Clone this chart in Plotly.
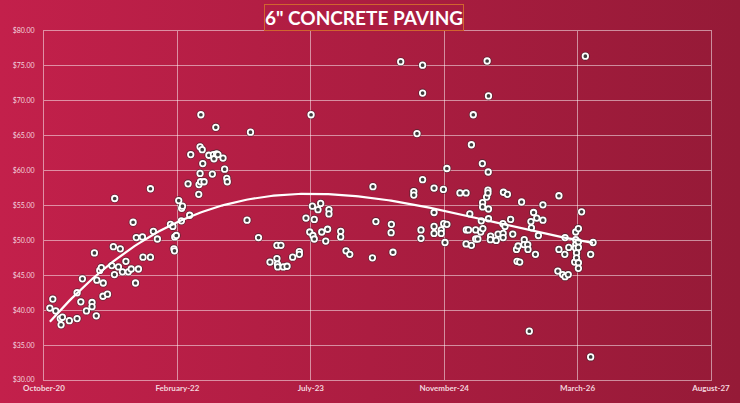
import base64
import numpy as np
import plotly.graph_objects as go

# x = days since start of axis (October-20); y = price in $
days = [22, 33, 44, 61, 64, 69, 95, 124, 124, 138, 144, 159, 180, 180, 189, 196, 198, 209, 215, 221,
        222, 238, 254, 260, 264, 265, 279, 286, 294, 307, 316, 327, 334, 343, 346, 354, 369, 371, 399, 399,
        410, 425, 474, 483, 487, 489, 490, 496, 505, 515, 516, 519, 540, 546, 550, 580, 581, 585, 585, 587,
        588, 593, 595, 600, 618, 631, 635, 637, 644, 647, 652, 671, 677, 685, 687, 761, 774, 804, 847, 873,
        873, 875, 876, 888, 897, 911, 932, 957, 957, 982, 996, 1001, 1006, 1008, 1013, 1013, 1027, 1037, 1041, 1056,
        1063, 1068, 1068, 1112, 1112, 1132, 1146, 1231, 1233, 1244, 1301, 1302, 1308, 1337, 1386, 1386, 1398, 1413, 1413, 1419,
        1419, 1419, 1462, 1462, 1462, 1462, 1489, 1489, 1497, 1498, 1503, 1510, 1510, 1559, 1582, 1583, 1582, 1591, 1596, 1602,
        1602, 1609, 1618, 1618, 1626, 1639, 1637, 1643, 1644, 1644, 1645, 1659, 1661, 1664, 1664, 1665, 1666, 1666, 1666, 1674,
        1673, 1695, 1702, 1720, 1722, 1721, 1721, 1728, 1737, 1749, 1757, 1771, 1773, 1777, 1783, 1790, 1800, 1799, 1813, 1814,
        1819, 1825, 1827, 1835, 1842, 1847, 1853, 1870, 1870, 1926, 1930, 1930, 1944, 1952, 1953, 1953, 1965, 1967, 1989, 1993,
        1993, 1993, 1992, 1996, 1996, 2003, 2003, 2003, 2003, 2003, 2015, 2029, 2049, 2049, 2058]
price = [40.3, 41.6, 39.9, 38.8, 37.9, 39.0, 38.5, 38.8, 42.5, 41.2, 44.5, 39.9, 41.1, 40.5, 48.2, 39.2, 44.3, 45.7, 46.1, 42.0,
         43.9, 42.3, 46.4, 49.1, 45.1, 56.0, 46.2, 48.8, 45.5, 47.0, 45.5, 45.9, 52.6, 43.9, 50.4, 45.9, 50.5, 47.6, 57.4, 47.6,
         51.3, 50.2, 52.3, 52.0, 48.8, 48.5, 50.5, 50.7, 55.7, 52.8, 54.6, 54.9, 58.1, 53.6, 62.3, 56.6, 58.0, 59.6, 63.4, 58.4,
         68.0, 63.0, 61.0, 58.4, 62.2, 59.5, 62.3, 61.7, 66.2, 62.4, 62.3, 61.8, 60.2, 58.9, 58.4, 52.9, 65.5, 50.4, 46.9, 49.3,
         47.4, 46.6, 46.2, 49.3, 46.2, 46.3, 47.6, 48.4, 48.0, 53.2, 51.2, 68.0, 54.9, 50.7, 53.0, 50.2, 54.4, 55.3, 51.2, 49.9,
         51.6, 54.4, 53.8, 51.3, 50.5, 48.5, 48.0, 47.5, 57.7, 52.7, 51.1, 52.3, 48.3, 75.6, 57.0, 56.5, 65.3, 51.5, 50.3, 75.1,
         71.1, 58.7, 57.5, 54.0, 52.0, 51.0, 51.5, 51.0, 57.3, 52.4, 49.7, 60.3, 52.3, 56.8, 56.8, 51.5, 49.5, 51.5, 53.8, 49.3,
         63.7, 68.0, 51.5, 50.2, 50.2, 52.8, 51.2, 61.0, 55.4, 54.8, 51.7, 56.2, 75.7, 57.2, 56.8, 59.8, 70.7, 54.5, 53.1, 50.6,
         50.1, 50.0, 50.9, 52.4, 56.9, 51.0, 50.4, 52.0, 56.6, 53.0, 50.9, 48.7, 47.0, 49.2, 46.9, 55.5, 50.1, 49.4, 49.4, 48.7,
         37.0, 52.7, 51.8, 54.0, 48.0, 53.2, 50.7, 55.1, 52.9, 45.6, 56.4, 48.7, 45.1, 48.0, 50.4, 44.8, 45.1, 49.0, 46.9, 51.2,
         50.1, 49.4, 48.9, 48.2, 47.5, 51.7, 49.8, 49.0, 46.8, 46.0, 54.1, 76.4, 48.0, 33.3, 49.7]

tick_days = [0, 500, 1000, 1500, 2000, 2500]
tick_labels = ["October-20", "February-22", "July-23", "November-24", "March-26", "August-27"]
y_ticks = [30, 35, 40, 45, 50, 55, 60, 65, 70, 75, 80]
y_labels = ["$%.2f" % v for v in y_ticks]
title_text = '6" CONCRETE PAVING'

# polynomial (order 3) trendline, as in the spreadsheet
coef = np.polyfit(np.array(days, float), np.array(price, float), 3)
tx = np.linspace(min(days), max(days), 200)
ty = np.polyval(coef, tx)

W, H = 740, 403
ml, mr, mt, mb = 44, 29, 31, 23
pw, ph = W - ml - mr, H - mt - mb

svg = ("<svg xmlns='http://www.w3.org/2000/svg' width='740' height='403' preserveAspectRatio='none'>"
       "<defs><linearGradient id='g' x1='0' y1='0' x2='1' y2='0'>"
       "<stop offset='0' stop-color='#C3204B'/><stop offset='1' stop-color='#951A37'/>"
       "</linearGradient></defs><rect width='740' height='403' fill='url(#g)'/></svg>")
bg_src = "data:image/svg+xml;base64," + base64.b64encode(svg.encode()).decode()

fig = go.Figure()
fig.add_trace(go.Scatter(x=days, y=price, mode="markers", hoverinfo="skip",
                         marker=dict(size=9, color="rgba(40,40,40,0.55)", line=dict(width=0)),
                         showlegend=False))
fig.add_trace(go.Scatter(x=days, y=price, mode="markers",
                         marker=dict(size=5.5, color="#3d3d3d", line=dict(width=1.8, color="white")),
                         showlegend=False))
fig.add_trace(go.Scatter(x=tx, y=ty, mode="lines", line=dict(color="white", width=2.2),
                         hoverinfo="skip", showlegend=False))

grid = "rgba(255,255,255,0.5)"
fig.update_layout(
    width=W, height=H,
    margin=dict(l=ml, r=mr, t=mt, b=mb, pad=0, autoexpand=False),
    paper_bgcolor="#AD1C42",
    plot_bgcolor="rgba(0,0,0,0)",
    images=[dict(source=bg_src, xref="paper", yref="paper",
                 x=-ml / pw, y=1 + mt / ph, sizex=W / pw, sizey=H / ph,
                 xanchor="left", yanchor="top", sizing="stretch", layer="below")],
    xaxis=dict(range=[0, 2500], tickmode="array", tickvals=tick_days, ticktext=tick_labels,
               showgrid=True, gridcolor=grid, gridwidth=1, zeroline=False, automargin=False,
               showline=True, linecolor=grid, linewidth=1, mirror=True,
               ticks="", tickfont=dict(family="Lato", size=8, color="#F3D6DE", weight="bold"),
               ticklabelstandoff=0),
    yaxis=dict(range=[30, 80], tickmode="array", tickvals=y_ticks, ticktext=y_labels,
               showgrid=True, gridcolor=grid, gridwidth=1, zeroline=False, automargin=False,
               showline=True, linecolor=grid, linewidth=1, mirror=True,
               ticks="", tickfont=dict(family="Lato", size=7, color="#F3D6DE"),
               ticklabelstandoff=7),
    annotations=[dict(text="<b>" + title_text + "</b>", xref="paper", yref="paper",
                      x=(364 - ml) / pw, y=1 + (mt - 17.5) / ph, xanchor="center", yanchor="middle",
                      showarrow=False, font=dict(family="Lato", size=19, color="white"),
                      bordercolor="#D0652F", borderwidth=1, borderpad=0,
                      width=198, height=25)],
)

fig.write_html("out.html")
